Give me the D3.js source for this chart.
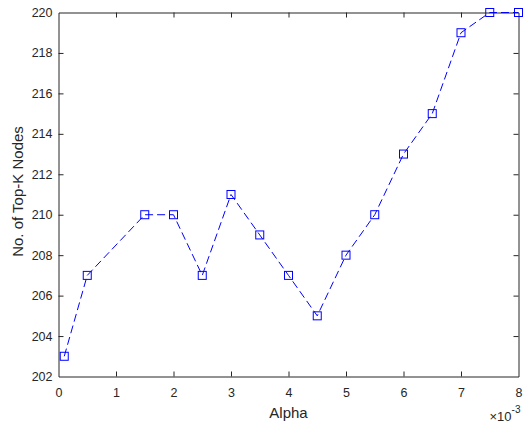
<!DOCTYPE html>
<html>
<head>
<meta charset="utf-8">
<script src="https://cdn.jsdelivr.net/npm/d3@7"></script>
<style>
  html, body { margin: 0; padding: 0; background: #fff; }
  svg { display: block; font-family: "Liberation Sans", Arial, sans-serif; }
</style>
</head>
<body>
<svg id="chart" width="523" height="427"></svg>
<script>
// Alpha values (in units of 1e-3) and the number of Top-K nodes found
const alphaValues = [0.1, 0.5, 1.5, 2, 2.5, 3, 3.5, 4, 4.5, 5, 5.5, 6, 6.5, 7, 7.5, 8];
const topKCounts  = [203, 207, 210, 210, 207, 211, 209, 207, 205, 208, 210, 213, 215, 219, 220, 220];
const xTicks = [0, 1, 2, 3, 4, 5, 6, 7, 8];
const yTicks = [202, 204, 206, 208, 210, 212, 214, 216, 218, 220];

const svg = d3.select("#chart");
const plotLeft = 58.5, plotRight = 518.5, plotTop = 12.5, plotBottom = 376.5;
const axisColor = "#262626";

const x = d3.scaleLinear().domain([0, 8]).range([plotLeft, plotRight]);
const y = d3.scaleLinear().domain([202, 220]).range([plotBottom, plotTop]);

const tickLen = 5;

// bottom axis with ticks pointing inward
const gx = svg.append("g").attr("transform", `translate(0,${plotBottom})`)
  .call(d3.axisBottom(x).tickValues(xTicks).tickSizeInner(-tickLen).tickSizeOuter(0).tickPadding(12));
// top axis (ticks only)
const gxt = svg.append("g").attr("transform", `translate(0,${plotTop})`)
  .call(d3.axisTop(x).tickValues(xTicks).tickSizeInner(-tickLen).tickSizeOuter(0).tickFormat(""));
// left axis
const gy = svg.append("g").attr("transform", `translate(${plotLeft},0)`)
  .call(d3.axisLeft(y).tickValues(yTicks).tickSizeInner(-tickLen).tickSizeOuter(0).tickPadding(6));
// right axis (ticks only)
const gyr = svg.append("g").attr("transform", `translate(${plotRight},0)`)
  .call(d3.axisRight(y).tickValues(yTicks).tickSizeInner(-tickLen).tickSizeOuter(0).tickFormat(""));

[gx, gxt, gy, gyr].forEach(g => {
  g.selectAll("path.domain").attr("stroke", axisColor).attr("stroke-width", 1);
  g.selectAll(".tick line").attr("stroke", axisColor).attr("stroke-width", 1);
  g.selectAll(".tick text").attr("fill", axisColor).attr("font-size", 12.5)
    .attr("font-family", "Liberation Sans, Arial, sans-serif");
});
// remove tick marks at the axis corners
gxt.selectAll(".tick").filter(d => d === 0 || d === 8).select("line").remove();
gx.selectAll(".tick").filter(d => d === 0 || d === 8).select("line").remove();
gy.selectAll(".tick").filter(d => d === 202 || d === 220).select("line").remove();
gyr.selectAll(".tick").filter(d => d === 202 || d === 220).select("line").remove();

// axis labels
svg.append("text")
  .attr("x", (plotLeft + plotRight) / 2).attr("y", 418)
  .attr("text-anchor", "middle").attr("font-size", 15).attr("fill", axisColor)
  .text("Alpha");
svg.append("text")
  .attr("transform", `translate(23,${(plotTop + plotBottom) / 2 - 3}) rotate(-90)`)
  .attr("text-anchor", "middle").attr("font-size", 15).attr("fill", axisColor)
  .text("No. of Top-K Nodes");

// exponent multiplier
const ex = svg.append("text")
  .attr("x", plotRight + 2).attr("y", 421)
  .attr("text-anchor", "end").attr("font-size", 13).attr("fill", axisColor);
ex.append("tspan").text("\u00d710");
ex.append("tspan").attr("dy", -8).attr("font-size", 10).text("-3");

// data line
const pts = alphaValues.map((a, i) => [a, topKCounts[i]]);
const line = d3.line().x(d => x(d[0])).y(d => y(d[1]));
svg.append("path")
  .datum(pts)
  .attr("d", line)
  .attr("fill", "none")
  .attr("stroke", "#0000ff")
  .attr("stroke-width", 1)
  .attr("stroke-dasharray", "8,4");

// square markers
const m = 8;
svg.append("g").selectAll("rect")
  .data(pts)
  .join("rect")
  .attr("x", d => x(d[0]) - m / 2)
  .attr("y", d => y(d[1]) - m / 2)
  .attr("width", m).attr("height", m)
  .attr("fill", "white")
  .attr("fill-opacity", 0)
  .attr("stroke", "#0000ff")
  .attr("stroke-width", 1);
</script>
</body>
</html>
